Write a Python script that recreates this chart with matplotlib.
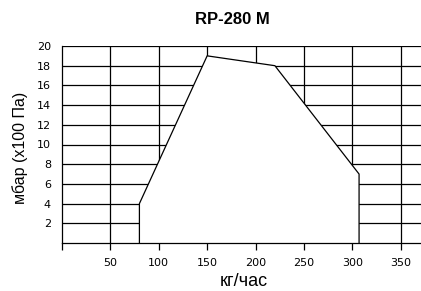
import matplotlib
matplotlib.use("Agg")
import matplotlib.pyplot as plt

# working envelope of the burner (flow kg/h vs pressure mbar)
env_x = [80, 80, 150, 220, 307, 307]
env_y = [0, 4, 19, 18, 7, 0]
xticks = [0, 50, 100, 150, 200, 250, 300, 350]
xlabels = ["", "50", "100", "150", "200", "250", "300", "350"]
yticks = [2, 4, 6, 8, 10, 12, 14, 16, 18, 20]

fig = plt.figure(figsize=(4.21, 2.91), dpi=100)
ax = fig.add_axes([62/421, 1 - 243/291, 1 - 62/421, (243 - 46)/291])

for y in yticks:
    ax.axhline(y, color="black", lw=0.9, zorder=1)
for x in xticks[1:]:
    ax.axvline(x, color="black", lw=0.9, zorder=1)

ax.fill(env_x, env_y, facecolor="white", edgecolor="none", zorder=2)
ax.plot(env_x, env_y, color="black", lw=0.9, zorder=3)

ax.set_xlim(0, 371)
ax.set_ylim(0, 20)
ax.set_xticks(xticks)
ax.set_xticklabels(xlabels, fontsize=8)
ax.set_yticks(yticks)
ax.set_yticklabels([str(v) for v in yticks], fontsize=8)
ax.tick_params(axis="x", direction="out", length=5, width=0.9, pad=6)
ax.tick_params(axis="y", length=0, pad=8)
for s in ["top", "right"]:
    ax.spines[s].set_visible(False)
ax.spines["left"].set_linewidth(0.9)
ax.spines["bottom"].set_linewidth(0.9)

fig.text(232/421, 1 - 20/291, "RP-280 M", ha="center", va="center",
         fontsize=12, fontweight="bold", family="Liberation Sans")
fig.text(20/421, 1 - 148/291, "мбар (x100 Па)", ha="center", va="center",
         rotation=90, fontsize=11.5, family="Liberation Sans")
fig.text(244/421, 1 - 282/291, "кг/час", ha="center", va="center",
         fontsize=13, family="Liberation Sans")

fig.savefig("out.png", dpi=100)
